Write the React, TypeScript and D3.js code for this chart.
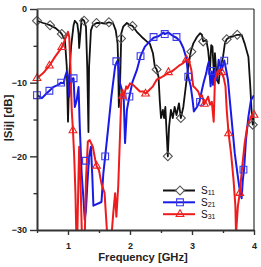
import React, { useEffect, useRef } from 'react';
import * as d3 from 'd3';

// S11 (black, diamonds)
const s11Freq = [0.5, 0.6, 0.71, 0.8, 0.87, 0.9, 0.95, 0.98, 1.0, 1.02, 1.05, 1.09, 1.11, 1.15, 1.17, 1.18, 1.2, 1.22, 1.26, 1.29, 1.31, 1.33, 1.34, 1.37, 1.4, 1.46, 1.54, 1.6, 1.66, 1.73, 1.77, 1.8, 1.81, 1.82, 1.84, 1.86, 1.89, 1.95, 2.0, 2.04, 2.11, 2.19, 2.27, 2.32, 2.37, 2.4, 2.43, 2.46, 2.48, 2.5, 2.53, 2.55, 2.57, 2.59, 2.61, 2.63, 2.66, 2.69, 2.72, 2.75, 2.79, 2.82, 2.86, 2.9, 2.94, 2.98, 3.02, 3.08, 3.13, 3.16, 3.18, 3.23, 3.26, 3.29, 3.31, 3.33, 3.36, 3.37, 3.4, 3.43, 3.45, 3.5, 3.53, 3.56, 3.61, 3.67, 3.73, 3.8, 3.85, 3.91, 3.94, 3.96, 3.98, 4.0];
const s11Db = [-1.6, -1.9, -2.2, -2.6, -3.1, -3.4, -4.2, -7.8, -15.3, -9.2, -5.1, -2.2, -1.6, -2.0, -3.3, -5.3, -3.3, -1.3, -1.6, -2.4, -7.8, -16.7, -7.8, -2.9, -2.2, -1.9, -1.9, -2.0, -1.8, -2.0, -2.9, -4.7, -7.8, -13.3, -10.1, -3.3, -2.4, -1.9, -2.2, -2.3, -3.1, -3.8, -4.4, -4.7, -6.0, -7.8, -8.2, -9.2, -12.4, -14.8, -13.7, -14.8, -13.3, -16.7, -20.0, -16.0, -13.7, -14.8, -13.3, -14.4, -12.8, -14.8, -13.3, -10.5, -7.8, -5.8, -4.7, -3.8, -3.3, -3.5, -4.4, -4.2, -5.6, -8.3, -4.9, -5.1, -10.1, -6.0, -9.6, -10.1, -8.3, -6.5, -4.7, -4.1, -3.8, -3.7, -3.5, -3.5, -4.7, -6.5, -10.5, -13.7, -15.7, -14.6];

// S21 (blue, squares)
const s21Freq = [0.5, 0.58, 0.66, 0.7, 0.76, 0.84, 0.89, 0.93, 0.95, 0.98, 1.0, 1.02, 1.04, 1.06, 1.09, 1.11, 1.14, 1.17, 1.19, 1.22, 1.25, 1.27, 1.29, 1.31, 1.34, 1.37, 1.39, 1.41, 1.54, 1.57, 1.6, 1.65, 1.7, 1.76, 1.79, 1.81, 1.84, 1.87, 1.9, 1.92, 1.95, 1.99, 2.04, 2.11, 2.17, 2.24, 2.32, 2.38, 2.46, 2.54, 2.56, 2.62, 2.7, 2.75, 2.81, 2.86, 2.91, 2.94, 2.98, 3.01, 3.03, 3.08, 3.12, 3.16, 3.19, 3.23, 3.25, 3.27, 3.3, 3.32, 3.34, 3.37, 3.4, 3.43, 3.45, 3.48, 3.52, 3.54, 3.58, 3.61, 3.65, 3.69, 3.74, 3.77, 3.8, 3.82, 3.84, 3.87, 3.91, 3.95, 4.0];
const s21Db = [-11.7, -12.1, -11.4, -11.1, -10.6, -10.3, -10.0, -10.1, -9.3, -8.5, -9.2, -11.9, -10.8, -9.5, -9.4, -13.3, -12.4, -10.6, -16.0, -22.3, -25.9, -28.6, -27.3, -24.1, -20.0, -18.7, -22.3, -26.7, -26.2, -22.3, -20.0, -16.0, -11.9, -7.8, -7.1, -7.4, -10.1, -11.0, -12.4, -18.2, -13.7, -11.9, -9.9, -8.3, -6.4, -5.1, -4.4, -3.9, -3.7, -3.2, -3.4, -3.2, -3.7, -3.9, -4.4, -5.3, -6.7, -9.2, -10.5, -12.4, -13.9, -13.3, -12.6, -11.0, -9.9, -8.7, -7.8, -7.2, -10.5, -8.5, -10.3, -8.3, -9.6, -6.9, -7.6, -8.3, -7.0, -7.8, -9.6, -12.4, -16.0, -19.6, -22.8, -24.6, -25.7, -23.2, -21.8, -17.8, -14.6, -12.4, -11.7];

// S31 (red, triangles)
const s31Freq = [0.5, 0.6, 0.7, 0.79, 0.9, 0.95, 1.0, 1.02, 1.04, 1.06, 1.08, 1.1, 1.12, 1.135, 1.15, 1.17, 1.18, 1.2, 1.225, 1.27, 1.29, 1.32, 1.35, 1.4, 1.44, 1.46, 1.5, 1.54, 1.59, 1.61, 1.635, 1.7, 1.73, 1.76, 1.78, 1.81, 1.84, 1.86, 1.88, 1.9, 1.94, 1.96, 2.0, 2.05, 2.11, 2.16, 2.22, 2.25, 2.31, 2.37, 2.43, 2.5, 2.56, 2.62, 2.67, 2.73, 2.79, 2.85, 2.91, 2.95, 2.99, 3.02, 3.06, 3.1, 3.13, 3.16, 3.2, 3.23, 3.26, 3.29, 3.32, 3.35, 3.37, 3.41, 3.44, 3.48, 3.51, 3.54, 3.56, 3.59, 3.63, 3.67, 3.7, 3.71, 3.74, 3.77, 3.81, 3.85, 3.89, 3.94, 3.98, 4.0];
const s31Db = [-9.4, -8.7, -7.7, -6.5, -5.2, -4.2, -3.1, -3.8, -7.8, -13.7, -16.5, -20.0, -25.0, -31, -31, -22.3, -18.7, -22.8, -31, -31, -23.2, -18.0, -17.8, -18.7, -20.5, -21.3, -21.9, -23.7, -25.0, -27.7, -31, -31, -27.7, -25.0, -28.2, -24.1, -16.9, -11.9, -11.0, -11.9, -10.5, -10.8, -10.1, -10.3, -10.8, -11.2, -11.2, -11.5, -11.0, -10.5, -9.6, -9.3, -9.0, -8.6, -8.5, -8.1, -7.7, -7.4, -6.9, -7.0, -8.3, -10.5, -10.8, -11.2, -11.9, -11.7, -12.9, -12.4, -11.9, -13.0, -12.6, -15.3, -9.6, -8.5, -8.3, -8.7, -9.3, -10.5, -13.7, -16.9, -19.6, -23.2, -26.8, -30.5, -26.8, -25.0, -21.4, -18.2, -16.0, -14.9, -14.5, -14.2];

// marker positions
const s11MarkFreq = [0.5, 0.71, 0.9, 1.26, 1.46, 1.66, 1.855, 2.04, 2.43, 2.61, 2.82, 2.99, 3.18, 3.56, 3.73, 3.98];
const s11MarkDb = [-1.6, -2.2, -3.4, -1.6, -1.9, -1.8, -4.0, -2.3, -8.2, -20.0, -14.8, -5.8, -4.4, -4.1, -3.5, -15.7];
const s21MarkFreq = [0.5, 0.7, 0.89, 1.09, 1.29, 1.6, 1.78, 1.99, 2.17, 2.38, 2.56, 2.75, 2.94, 3.13, 3.32, 3.52, 3.83];
const s21MarkDb = [-11.7, -11.1, -10.0, -9.4, -20.6, -20.0, -7.1, -11.9, -6.4, -3.8, -3.4, -3.8, -9.2, -12.6, -8.4, -7.0, -21.8];
const s31MarkFreq = [0.5, 0.7, 0.9, 1.08, 1.46, 1.88, 2.25, 2.62, 2.91, 3.2, 3.48, 3.59, 3.77, 4.0];
const s31MarkDb = [-9.4, -7.7, -5.2, -16.5, -21.3, -11.8, -11.5, -8.6, -6.9, -12.9, -8.6, -16.9, -25.0, -14.4];

const xTicks = [1, 2, 3, 4];
const xMinorTicks = [0.5, 1.5, 2.5, 3.5];
const yTicks = [-30, -20, -10, 0];
const yMinorTicks = [-25, -15, -5];
const legendSubs = ['11', '21', '31'];

const FONT = '"Liberation Sans", Arial, sans-serif';

export default function App() {
  const svgRef = useRef<SVGSVGElement>(null);

  useEffect(() => {
    const svg = d3.select(svgRef.current);
    svg.selectAll('*').remove();

    const x = d3.scaleLinear().domain([0.5, 4]).range([37, 254]);
    const y = d3.scaleLinear().domain([-30, 0]).range([230, 9]);

    svg.append('defs').append('clipPath').attr('id', 'plotclip')
      .append('rect').attr('x', 37).attr('y', 9).attr('width', 217).attr('height', 221);

    // frame top / right
    svg.append('line').attr('x1', 37).attr('x2', 254).attr('y1', y(0)).attr('y2', y(0))
      .attr('stroke', '#333').attr('stroke-width', 1.2);
    svg.append('line').attr('x1', 254).attr('x2', 254).attr('y1', 9).attr('y2', 230)
      .attr('stroke', '#333').attr('stroke-width', 1.2);

    const series = [
      { f: s11Freq, v: s11Db, color: '#111', width: 1.8, mf: s11MarkFreq, mv: s11MarkDb, mark: 'diamond', mcolor: '#555' },
      { f: s21Freq, v: s21Db, color: '#1a1ae6', width: 2, mf: s21MarkFreq, mv: s21MarkDb, mark: 'square', mcolor: '#3a3ae8' },
      { f: s31Freq, v: s31Db, color: '#ee1c1c', width: 2, mf: s31MarkFreq, mv: s31MarkDb, mark: 'triangle', mcolor: '#ee2020' },
    ];

    const symbolPath = (kind: string) => {
      if (kind === 'diamond') return d3.symbol(d3.symbolSquare, 40)();
      if (kind === 'square') return d3.symbol(d3.symbolSquare, 46)();
      return d3.symbol(d3.symbolTriangle, 26)();
    };
    const rot = (kind: string) => (kind === 'diamond' ? ' rotate(45)' : '');

    const plot = svg.append('g').attr('clip-path', 'url(#plotclip)');

    series.forEach((s) => {
      const pts = s.f.map((f, i) => [f, s.v[i]] as [number, number]);
      const ln = d3.line<[number, number]>().x((d) => x(d[0])).y((d) => y(d[1]));
      plot.append('path').datum(pts).attr('d', ln)
        .attr('fill', 'none').attr('stroke', s.color).attr('stroke-width', s.width)
        .attr('stroke-linejoin', 'round');
    });

    series.forEach((s) => {
      const pts = s.mf.map((f, i) => [f, s.mv[i]] as [number, number]);
      svg.append('g').selectAll('path').data(pts).join('path')
        .attr('d', symbolPath(s.mark))
        .attr('transform', (d) => `translate(${x(d[0])},${y(d[1])})${rot(s.mark)}`)
        .attr('fill', 'none').attr('stroke', s.mcolor).attr('stroke-width', 1.1);
    });

    // axes
    const gx = svg.append('g').attr('transform', 'translate(0,230)')
      .call(d3.axisBottom(x).tickValues(xTicks).tickFormat(d3.format('d')).tickSize(5).tickSizeOuter(0).tickPadding(8));
    gx.select('.domain').attr('stroke', '#333').attr('stroke-width', 2);
    gx.selectAll('.tick line').attr('stroke', '#333').attr('stroke-width', 1.4);
    gx.selectAll('.tick text').attr('font-size', 9).attr('font-weight', 'bold')
      .attr('font-family', FONT).attr('fill', '#222');
    const gxm = svg.append('g').attr('transform', 'translate(0,230)')
      .call(d3.axisBottom(x).tickValues(xMinorTicks).tickFormat(() => '').tickSize(3).tickSizeOuter(0));
    gxm.select('.domain').remove();
    gxm.selectAll('.tick line').attr('stroke', '#333').attr('stroke-width', 1.4);

    const gy = svg.append('g').attr('transform', 'translate(37,0)')
      .call(d3.axisLeft(y).tickValues(yTicks).tickFormat(d3.format('d')).tickSize(7).tickSizeOuter(0).tickPadding(3));
    gy.select('.domain').attr('stroke', '#333').attr('stroke-width', 2);
    gy.selectAll('.tick line').attr('stroke', '#333').attr('stroke-width', 1.4);
    gy.selectAll('.tick text').attr('font-size', 9).attr('font-weight', 'bold')
      .attr('font-family', FONT).attr('fill', '#222');
    const gym = svg.append('g').attr('transform', 'translate(37,0)')
      .call(d3.axisLeft(y).tickValues(yMinorTicks).tickFormat(() => '').tickSize(3.5).tickSizeOuter(0));
    gym.select('.domain').remove();
    gym.selectAll('.tick line').attr('stroke', '#333').attr('stroke-width', 1.4);

    // axis titles
    svg.append('text').attr('x', 143).attr('y', 261).attr('text-anchor', 'middle')
      .attr('font-family', FONT).attr('font-weight', 'bold').attr('font-size', 11.2).attr('fill', '#222')
      .text('Frequency [GHz]');
    svg.append('text').attr('transform', 'translate(12,118) rotate(-90)').attr('text-anchor', 'middle')
      .attr('font-family', FONT).attr('font-weight', 'bold').attr('font-size', 11.5).attr('fill', '#222')
      .text('|Sij| [dB]');

    // legend
    const legendY = [190.5, 202.3, 214.2];
    series.forEach((s, i) => {
      const g = svg.append('g').attr('transform', `translate(0,${legendY[i]})`);
      g.append('line').attr('x1', 163).attr('x2', 195).attr('y1', 0).attr('y2', 0)
        .attr('stroke', s.color).attr('stroke-width', 2);
      g.append('path').attr('d', symbolPath(s.mark))
        .attr('transform', `translate(180,0)${rot(s.mark)}`)
        .attr('fill', s.mark === 'diamond' ? '#fff' : 'none').attr('stroke', s.mcolor).attr('stroke-width', 1.1);
      const t = g.append('text').attr('x', 201).attr('y', 3.5)
        .attr('font-family', FONT).attr('font-size', 10).attr('fill', '#111');
      t.append('tspan').text('S');
      t.append('tspan').attr('font-size', 7).attr('dy', 1).text(legendSubs[i]);
    });
  }, []);

  return (
    <svg ref={svgRef} width={261} height={267}
      style={{ position: 'absolute', left: 0, top: 0, background: '#fff' }} />
  );
}
